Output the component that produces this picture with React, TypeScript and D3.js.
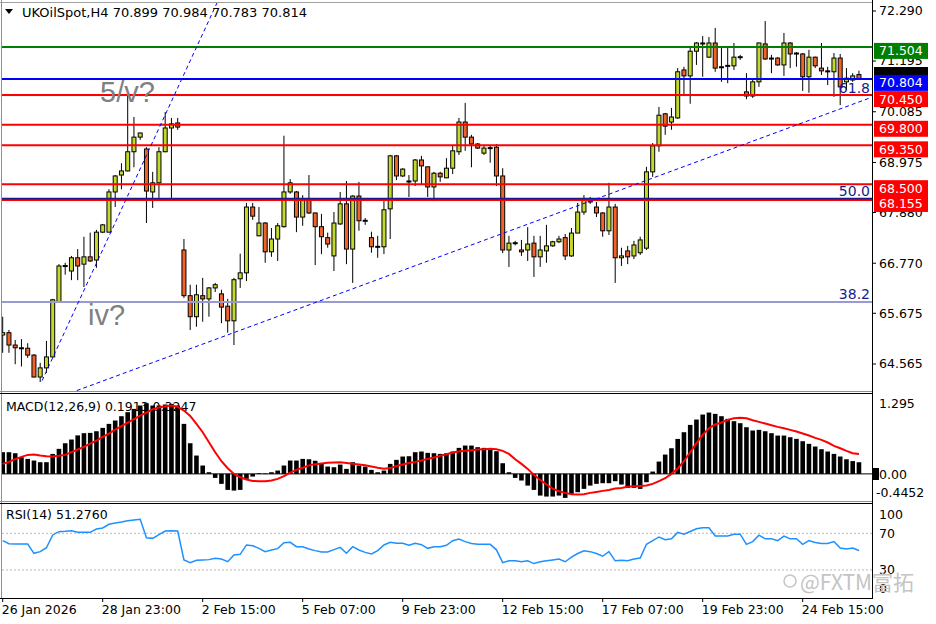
import React from 'react'
import * as d3 from 'd3'

// H4 candles, oldest first
const opens = [65.2, 65.25, 64.98, 64.92, 64.91, 64.76, 64.28, 64.48, 64.72, 65.92, 66.71, 66.6, 66.89, 66.75, 66.91, 66.84, 67.45, 67.45, 68.33, 68.7, 68.79, 69.21, 69.53, 69.27, 68.33, 68.53, 69.21, 69.73, 69.84, 67.06, 66.06, 65.6, 66.06, 65.99, 66.23, 66.1, 65.83, 65.51, 66.43, 66.56, 68.0, 67.37, 67.65, 67.02, 67.3, 67.57, 68.33, 68.33, 67.78, 68.18, 67.87, 67.57, 67.33, 66.93, 67.63, 68.07, 67.08, 68.24, 67.7, 67.33, 67.13, 67.13, 67.96, 69.12, 68.68, 68.57, 68.57, 69.03, 68.88, 68.44, 68.74, 68.64, 68.85, 69.21, 69.86, 69.53, 69.38, 69.18, 69.29, 69.31, 68.68, 67.06, 67.21, 67.06, 67.06, 67.21, 66.91, 67.04, 67.15, 67.24, 67.33, 66.93, 67.43, 67.89, 68.18, 68.0, 67.87, 67.48, 68.0, 66.89, 67.04, 66.93, 67.0, 67.1, 68.77, 69.34, 70.04, 69.86, 69.95, 71.0, 70.87, 71.41, 71.59, 71.28, 71.59, 71.07, 71.09, 71.09, 71.28, 70.52, 70.43, 70.74, 71.57, 71.26, 71.26, 71.11, 71.59, 71.37, 71.35, 70.85, 71.28, 71.04, 70.98, 70.96, 71.26, 70.74, 70.78, 70.899]
const highs = [65.6, 65.31, 65.09, 65.11, 65.02, 64.78, 64.59, 65.07, 65.99, 66.75, 66.78, 66.93, 67.08, 67.35, 67.44, 67.5, 67.63, 68.39, 68.7, 68.96, 70.47, 69.97, 69.63, 69.31, 68.77, 69.31, 70.08, 69.95, 69.95, 67.3, 66.3, 66.3, 66.45, 66.25, 66.34, 66.19, 65.99, 66.45, 66.98, 68.09, 68.09, 68.0, 67.67, 67.54, 67.65, 69.56, 68.61, 68.35, 68.26, 68.7, 67.88, 67.85, 67.44, 67.89, 68.33, 68.57, 68.26, 68.55, 67.76, 67.46, 67.37, 68.13, 69.14, 69.14, 68.85, 68.7, 69.05, 69.12, 68.88, 68.77, 68.77, 69.07, 69.34, 69.95, 70.28, 69.58, 69.4, 69.36, 69.34, 69.38, 68.85, 67.37, 67.26, 67.28, 67.56, 67.37, 67.37, 67.61, 67.26, 67.37, 67.41, 67.54, 68.09, 68.26, 68.22, 68.11, 67.89, 68.53, 68.07, 67.11, 67.15, 67.26, 67.35, 68.88, 69.4, 70.19, 70.06, 70.17, 71.04, 71.07, 71.5, 71.61, 71.74, 71.72, 71.92, 71.5, 71.5, 71.59, 71.33, 70.93, 70.8, 71.6, 72.07, 71.33, 71.28, 71.81, 71.61, 71.39, 71.37, 71.44, 71.29, 71.59, 71.07, 71.37, 71.35, 71.04, 70.93, 70.984]
const lows = [64.81, 64.81, 64.56, 64.51, 64.7, 64.27, 64.17, 64.37, 64.7, 65.9, 66.52, 66.4, 66.4, 66.25, 66.8, 66.67, 67.43, 67.45, 68.0, 68.39, 68.78, 68.87, 69.47, 67.65, 67.98, 68.2, 69.2, 68.2, 69.69, 66.01, 65.31, 65.38, 65.49, 65.6, 66.14, 65.46, 65.25, 64.98, 66.23, 66.38, 67.72, 67.36, 66.78, 66.91, 66.82, 67.55, 68.29, 67.45, 67.59, 67.85, 66.73, 66.97, 67.11, 66.6, 67.61, 66.75, 66.34, 67.48, 67.61, 67.0, 66.89, 66.97, 67.3, 68.59, 68.66, 68.22, 68.46, 68.48, 68.22, 68.13, 68.55, 68.63, 68.72, 69.14, 69.23, 68.87, 69.27, 69.14, 68.97, 68.46, 66.99, 66.69, 67.16, 66.93, 66.82, 66.47, 66.69, 66.78, 67.13, 67.21, 66.84, 66.91, 67.43, 67.83, 68.07, 67.78, 67.35, 67.39, 66.34, 66.71, 66.75, 66.86, 66.95, 67.06, 68.66, 69.21, 69.58, 69.69, 69.93, 70.45, 70.26, 71.11, 70.85, 71.26, 70.96, 70.74, 70.71, 71.0, 71.22, 70.36, 70.39, 70.63, 71.22, 70.93, 71.09, 70.87, 71.04, 71.07, 70.54, 70.5, 71.04, 70.89, 70.67, 70.41, 70.23, 70.56, 70.74, 70.783]
const closes = [65.25, 64.98, 64.92, 64.91, 64.76, 64.28, 64.48, 64.72, 65.97, 66.71, 66.72, 66.89, 66.71, 66.91, 66.82, 67.45, 67.61, 68.33, 68.68, 68.79, 69.21, 69.53, 69.62, 68.35, 68.53, 69.21, 69.73, 69.82, 69.75, 66.06, 65.6, 66.08, 65.99, 66.23, 66.3, 65.81, 65.51, 66.41, 66.56, 68.0, 67.8, 67.65, 67.02, 67.3, 67.59, 68.33, 68.53, 67.78, 68.15, 67.87, 67.57, 67.35, 67.19, 67.65, 68.07, 67.08, 68.24, 67.7, 67.71, 67.13, 67.14, 67.94, 69.12, 68.68, 68.83, 68.56, 69.03, 68.9, 68.44, 68.74, 68.66, 68.85, 69.23, 69.86, 69.53, 69.38, 69.29, 69.29, 69.3, 68.68, 67.06, 67.21, 67.22, 67.02, 67.19, 66.91, 67.06, 67.15, 67.24, 67.3, 66.93, 67.43, 67.89, 68.15, 68.11, 67.87, 67.48, 68.0, 66.89, 66.93, 66.91, 67.17, 67.28, 68.77, 69.34, 70.01, 69.77, 69.97, 70.96, 70.87, 71.41, 71.59, 71.58, 71.59, 71.04, 71.06, 71.1, 71.28, 71.29, 70.43, 70.74, 71.59, 71.24, 71.25, 71.11, 71.59, 71.35, 71.36, 70.85, 71.28, 71.09, 70.98, 70.97, 71.26, 70.63, 70.82, 70.87, 70.814]

// MACD(12,26,9): histogram and signal
const macdMain = [0.356, 0.356, 0.339, 0.274, 0.246, 0.219, 0.192, 0.192, 0.328, 0.411, 0.503, 0.564, 0.632, 0.668, 0.673, 0.7, 0.755, 0.821, 0.876, 0.947, 1.013, 1.067, 1.122, 1.16, 1.122, 1.122, 1.139, 1.149, 1.122, 0.821, 0.503, 0.301, 0.137, 0.027, -0.066, -0.164, -0.263, -0.274, -0.263, -0.082, -0.044, 0.011, 0.005, 0.027, 0.055, 0.137, 0.219, 0.219, 0.246, 0.24, 0.215, 0.164, 0.12, 0.109, 0.153, 0.082, 0.192, 0.137, 0.12, 0.066, 0.027, 0.055, 0.164, 0.23, 0.285, 0.29, 0.356, 0.367, 0.345, 0.339, 0.328, 0.339, 0.367, 0.427, 0.465, 0.465, 0.438, 0.427, 0.394, 0.372, 0.175, 0.027, -0.066, -0.109, -0.192, -0.263, -0.356, -0.372, -0.372, -0.356, -0.394, -0.328, -0.301, -0.246, -0.192, -0.164, -0.153, -0.153, -0.12, -0.175, -0.23, -0.23, -0.246, -0.137, 0.038, 0.202, 0.317, 0.421, 0.574, 0.684, 0.804, 0.892, 0.974, 1.007, 0.985, 0.947, 0.903, 0.865, 0.832, 0.766, 0.712, 0.723, 0.7, 0.668, 0.629, 0.629, 0.602, 0.575, 0.536, 0.493, 0.449, 0.405, 0.367, 0.328, 0.285, 0.24, 0.21, 0.191]
const macdSignal = [0.164, 0.197, 0.241, 0.279, 0.312, 0.317, 0.301, 0.29, 0.285, 0.296, 0.312, 0.356, 0.4, 0.443, 0.498, 0.547, 0.608, 0.662, 0.728, 0.783, 0.843, 0.898, 0.958, 1.007, 1.062, 1.089, 1.111, 1.122, 1.1, 1.04, 0.952, 0.821, 0.684, 0.52, 0.356, 0.208, 0.093, 0.0, -0.055, -0.093, -0.115, -0.12, -0.12, -0.109, -0.082, -0.038, 0.022, 0.066, 0.1, 0.14, 0.16, 0.172, 0.181, 0.188, 0.19, 0.18, 0.165, 0.155, 0.14, 0.12, 0.1, 0.085, 0.095, 0.13, 0.155, 0.18, 0.197, 0.219, 0.246, 0.268, 0.296, 0.323, 0.35, 0.367, 0.378, 0.389, 0.4, 0.405, 0.411, 0.405, 0.378, 0.328, 0.241, 0.164, 0.082, -0.016, -0.099, -0.175, -0.241, -0.285, -0.312, -0.334, -0.339, -0.334, -0.312, -0.296, -0.279, -0.263, -0.241, -0.23, -0.213, -0.203, -0.197, -0.192, -0.164, -0.12, -0.071, 0.0, 0.088, 0.208, 0.356, 0.504, 0.64, 0.75, 0.81, 0.843, 0.887, 0.914, 0.92, 0.914, 0.881, 0.854, 0.826, 0.799, 0.772, 0.75, 0.722, 0.695, 0.662, 0.629, 0.591, 0.558, 0.515, 0.46, 0.421, 0.378, 0.339, 0.325]

// RSI(14)
const rsiValues = [62.0, 58.7, 58.3, 58.3, 58.3, 48.2, 50.0, 54.3, 68.2, 71.8, 72.2, 72.9, 71.1, 71.1, 71.1, 74.7, 75.8, 79.8, 81.2, 82.3, 83.8, 84.5, 85.2, 65.2, 64.5, 68.5, 72.5, 72.9, 72.5, 40.9, 38.0, 40.5, 40.9, 41.3, 42.7, 42.0, 39.1, 46.4, 47.1, 57.3, 56.5, 53.6, 50.0, 51.8, 53.3, 59.8, 60.2, 55.4, 55.4, 52.9, 51.1, 49.6, 49.6, 52.2, 54.7, 48.2, 55.4, 51.8, 49.2, 47.4, 51.1, 57.3, 60.2, 59.1, 59.1, 56.9, 59.1, 57.6, 53.6, 55.4, 55.4, 56.9, 61.9, 63.8, 60.9, 59.0, 58.0, 58.0, 58.0, 52.0, 38.0, 40.0, 40.0, 39.0, 40.0, 37.0, 39.0, 40.0, 41.0, 42.0, 39.0, 44.0, 48.0, 51.0, 50.0, 48.0, 45.0, 50.0, 40.0, 40.5, 40.0, 42.0, 43.0, 58.0, 62.0, 66.0, 63.0, 64.0, 71.0, 69.0, 72.0, 75.0, 76.0, 76.0, 67.0, 67.0, 67.0, 69.0, 69.0, 58.0, 61.0, 68.0, 64.0, 64.0, 62.0, 67.0, 64.0, 64.0, 58.0, 62.0, 60.0, 59.0, 59.0, 61.0, 54.0, 53.0, 54.0, 51.276]

const priceTicks = [72.29, 71.195, 70.085, 68.975, 67.88, 66.77, 65.675, 64.565]
const levelPrices = [71.504, 70.804, 70.45, 69.8, 69.35, 68.5, 68.155]
const levelColors = ['#008000', '#0000ff', '#ff0000', '#ff0000', '#ff0000', '#ff0000', '#ff0000']
const fibLabels = ['61.8', '50.0', '38.2']
const fibPrices = [70.44, 68.18, 65.92]
const timeLabels = ['26 Jan 2026', '28 Jan 23:00', '2 Feb 15:00', '5 Feb 07:00', '9 Feb 23:00', '12 Feb 15:00', '17 Feb 07:00', '19 Feb 23:00', '24 Feb 15:00']
const timeIndex = [0, 16, 32, 48, 64, 80, 96, 112, 128]
// trend lines as [bar index, price] pairs
const trendSteep = [[6.3, 64.2], [34.3, 72.47]]
const trendLong = [[10.8, 63.93], [138.8, 70.39]]

const bull = '#c3d92e'
const bear = '#f0642a'
const font = '"DejaVu Sans", Tahoma, sans-serif'

export default function App() {
  const x = d3.scaleLinear().domain([0, 137]).range([2.7, 858.95])
  const yP = d3.scaleLinear().domain([64.565, 72.29]).range([364, 11])
  const yM = d3.scaleLinear().domain([-0.4452, 1.295]).range([501, 395])
  const yR = d3.scaleLinear().domain([0, 100]).range([597.5, 505.8])

  const sigPath = d3.line<number>().x((_, i) => x(i)).y(d => yM(d))(macdSignal) || ''
  const rsiPath = d3.line<number>().x((_, i) => x(i)).y(d => yR(d))(rsiValues) || ''
  const trend = d3.line<number[]>().x(d => x(d[0])).y(d => yP(d[1]))

  const axisX = 872
  const fmt = d3.format('.3f')

  return (
    <svg width={936} height={624} style={{position: 'absolute', left: 0, top: 0, background: '#fff'}} fontFamily={font}>
      <defs>
        <clipPath id="mainClip"><rect x={2} y={3} width={870} height={388} /></clipPath>
        <clipPath id="subClip"><rect x={2} y={395} width={870} height={204} /></clipPath>
      </defs>

      {/* frame */}
      <line x1={1.5} x2={1.5} y1={0} y2={598} stroke="#909090" />
      <line x1={0} x2={axisX} y1={2.5} y2={2.5} stroke="#a0a0a0" />
      <line x1={0} x2={axisX} y1={391.5} y2={391.5} stroke="#909090" />
      <line x1={0} x2={axisX} y1={393.5} y2={393.5} stroke="#000" />
      <line x1={0} x2={axisX} y1={501.5} y2={501.5} stroke="#909090" />
      <line x1={0} x2={axisX} y1={503.5} y2={503.5} stroke="#000" />
      <line x1={0} x2={axisX} y1={598.5} y2={598.5} stroke="#000" />
      <line x1={axisX + 0.5} x2={axisX + 0.5} y1={0} y2={599} stroke="#000" />

      {/* candles */}
      <g clipPath="url(#mainClip)">
        {opens.map((o, i) => {
          const c = closes[i]
          const cx = x(i)
          const top = yP(Math.max(o, c))
          const h = Math.max(1, Math.abs(yP(o) - yP(c)))
          return (
            <g key={i}>
              <line x1={cx} x2={cx} y1={yP(highs[i])} y2={yP(lows[i])} stroke="#000" />
              <rect x={cx - 2} y={top} width={4} height={h} fill={c >= o ? bull : bear} stroke="#000" strokeWidth={1} />
            </g>
          )
        })}

        {/* fib levels */}
        {fibPrices.map((p, i) => (
          <line key={'f' + i} x1={2} x2={axisX} y1={yP(p)} y2={yP(p)}
            stroke={i === 2 ? '#9a9ad2' : '#1a1a8c'} strokeWidth={i === 0 ? 1 : 2} />
        ))}

        {/* horizontal levels */}
        {levelPrices.map((p, i) => (
          <line key={'l' + i} x1={2} x2={axisX} y1={yP(p)} y2={yP(p)} stroke={levelColors[i]} strokeWidth={2} />
        ))}
        <line x1={2} x2={axisX} y1={yP(68.18)} y2={yP(68.18)} stroke="#1a1a8c" strokeWidth={1.2} />

        {/* trend lines */}
        <path d={trend(trendSteep) || ''} stroke="#0000ff" strokeDasharray="4 3" fill="none" />
        <path d={trend(trendLong) || ''} stroke="#0000ff" strokeDasharray="4 3" fill="none" />

        {fibLabels.map((t, i) => (
          <text key={'ft' + i} x={870} y={yP(fibPrices[i]) - 3} textAnchor="end" fontSize={14} fill="#1a1a8c">{t}</text>
        ))}

        <text x={100} y={102} fontSize={29} fill="#808080" fontFamily='"Liberation Sans", Arial, sans-serif'>5/v?</text>
        <text x={88} y={325} fontSize={29} fill="#808080" fontFamily='"Liberation Sans", Arial, sans-serif'>iv?</text>
      </g>

      {/* header */}
      <path d="M5,9 L13,9 L9,14 Z" fill="#000" />
      <text x={22} y={17} fontSize={13} fill="#000">UKOilSpot,H4  70.899 70.984 70.783 70.814</text>

      {/* price axis */}
      {priceTicks.map((p, i) => (
        <g key={'pt' + i}>
          <line x1={axisX} x2={axisX + 4} y1={yP(p)} y2={yP(p)} stroke="#000" />
          <text x={879} y={yP(p)} dy="0.35em" fontSize={12.5} fill="#000">{fmt(p)}</text>
        </g>
      ))}
      <rect x={874} y={67} width={54} height={10} fill="#000" />
      {levelPrices.map((p, i) => (
        <g key={'pb' + i}>
          <rect x={874} y={yP(p) - 4} width={54} height={16} fill={levelColors[i]} />
          <text x={879} y={yP(p) + 8.5} fontSize={12.5} fill="#fff">{fmt(p)}</text>
        </g>
      ))}

      {/* MACD */}
      <text x={6} y={411} fontSize={12.5} fill="#000">MACD(12,26,9) 0.1913 0.3247</text>
      <g clipPath="url(#subClip)">
        <line x1={2} x2={axisX} y1={yM(0)} y2={yM(0)} stroke="#000" />
        {macdMain.map((v, i) => (
          <rect key={'m' + i} x={x(i) - 2.3} y={yM(Math.max(v, 0))} width={4.6}
            height={Math.max(0.5, Math.abs(yM(v) - yM(0)))} fill="#000" />
        ))}
        <path d={sigPath} fill="none" stroke="#ff0000" strokeWidth={2} />
      </g>
      <text x={879} y={404} dy="0.35em" fontSize={12.5}>1.295</text>
      <rect x={873} y={468} width={6} height={12} fill="#000" />
      <text x={879} y={yM(0) + 1} dy="0.35em" fontSize={12.5}>0.00</text>
      <text x={876} y={493} dy="0.35em" fontSize={12.5}>-0.4452</text>

      {/* RSI */}
      <text x={6} y={519} fontSize={12.5} fill="#000">RSI(14) 51.2760</text>
      {[70, 30].map(v => (
        <line key={'r' + v} x1={2} x2={axisX} y1={yR(v)} y2={yR(v)} stroke="#b8b8b8" strokeDasharray="2 2" />
      ))}
      <path d={rsiPath} fill="none" stroke="#1e90ff" strokeWidth={1.5} clipPath="url(#subClip)" />
      <text x={879} y={515} dy="0.35em" fontSize={12.5}>100</text>
      <text x={879} y={yR(70)} dy="0.35em" fontSize={12.5}>70</text>
      <text x={879} y={yR(30)} dy="0.35em" fontSize={12.5}>30</text>
      <text x={879} y={589} dy="0.35em" fontSize={12.5}>0</text>

      {/* watermark */}
      <circle cx={790} cy={581} r={6} fill="none" stroke="#c4c4c4" strokeWidth={1.5} />
      <text x={800} y={590} fontSize={21} fill="#c4c4c4" fontFamily='"Noto Sans CJK SC", "Noto Sans", sans-serif'>@FXTM富拓</text>

      {/* time axis */}
      {timeIndex.map((t, i) => (
        <g key={'t' + i}>
          <line x1={x(t)} x2={x(t)} y1={598} y2={602} stroke="#000" />
          <text x={x(t) - 1} y={614} fontSize={12.5} fill="#000">{timeLabels[i]}</text>
        </g>
      ))}
    </svg>
  )
}
